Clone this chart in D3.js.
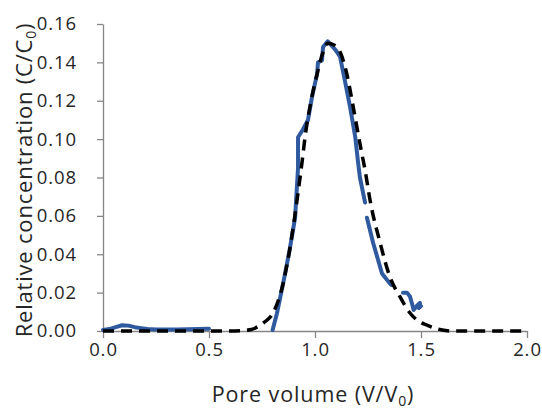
<!DOCTYPE html>
<html><head><meta charset="utf-8">
<script src="https://cdn.jsdelivr.net/npm/d3@7"></script>
<style>body{margin:0;background:#fff}svg{display:block}text{font-family:"Open Sans",sans-serif;fill:#262626}</style>
</head><body>
<script>
// Observed breakthrough data (null = gap)
const obsV = [0.00,0.03,0.06,0.09,0.12,0.15,0.18,0.21,0.25,0.30,0.35,0.40,0.45,0.50,null,
  0.80,0.82,0.85,0.88,0.906,0.92,0.92,0.943,0.967,0.986,1.01,1.014,1.033,1.038,1.06,1.085,1.10,1.118,1.14,1.165,1.19,1.203,1.212,1.236,null,
  1.245,1.274,1.316,1.344,1.36,null,
  1.415,1.434,1.448,1.462,1.465,1.48,1.495,1.49,1.50];
const obsC = [0.0005,0.001,0.002,0.003,0.0028,0.002,0.0015,0.001,0.0008,0.0008,0.0008,0.0009,0.001,0.0012,null,
  0.0005,0.009,0.025,0.042,0.059,0.085,0.101,0.105,0.110,0.122,0.134,0.140,0.141,0.148,0.151,0.148,0.146,0.143,0.131,0.117,0.101,0.088,0.080,0.067,null,
  0.059,0.046,0.030,0.026,0.024,null,
  0.020,0.020,0.018,0.0125,0.011,0.013,0.0146,0.012,0.013];
// Model fit
const modV = [0.00,0.20,0.40,0.60,0.65,0.70,0.726,0.76,0.80,0.85,0.88,0.915,0.94,0.953,0.98,1.01,1.04,1.06,1.09,1.12,1.15,1.175,1.198,1.22,1.236,1.26,1.307,1.354,1.40,1.448,1.49,1.53,1.58,1.65,1.80,2.00];
const modC = [0,0,0,0,0.0002,0.0008,0.002,0.0045,0.009,0.025,0.042,0.068,0.089,0.101,0.119,0.134,0.146,0.150,0.149,0.145,0.134,0.120,0.106,0.093,0.084,0.068,0.046,0.028,0.018,0.0094,0.005,0.003,0.001,0,0,0];
const xTicks = [0,0.5,1.0,1.5,2.0];
const yTicks = [0,0.02,0.04,0.06,0.08,0.10,0.12,0.14,0.16];

const W=542,H=409, L=103, R=527, T=24, B=331;
const svg = d3.select("body").append("svg").attr("width",W).attr("height",H);
const x = d3.scaleLinear().domain([0,2]).range([L,R]);
const y = d3.scaleLinear().domain([0,0.16]).range([B,T]);

const ax = svg.append("g").attr("transform",`translate(0,${B})`)
  .call(d3.axisBottom(x).tickValues(xTicks).tickFormat(d3.format(".1f")).tickSize(7).tickSizeOuter(0).tickPadding(5));
const ay = svg.append("g").attr("transform",`translate(${L},0)`)
  .call(d3.axisLeft(y).tickValues(yTicks).tickFormat(d3.format(".2f")).tickSize(6).tickSizeOuter(0).tickPadding(20));
[ax,ay].forEach(g=>{
  g.selectAll("path,line").attr("stroke","#868686").attr("stroke-width",1.3);
  g.selectAll("text").attr("font-size",18.5).attr("letter-spacing",0.9).attr("fill","#262626").attr("font-family","Open Sans, sans-serif");
});
ay.selectAll("text").attr("dx",0);

const mod = modV.map((v,i)=>[v,modC[i]]);
const obs = obsV.map((v,i)=>[v,obsC[i]]);

svg.append("path").datum(obs)
  .attr("d", d3.line().defined(d=>d[0]!==null).x(d=>x(d[0])).y(d=>y(d[1])))
  .attr("fill","none").attr("stroke","#2f5aa0").attr("stroke-width",4).attr("stroke-linejoin","round").attr("stroke-linecap","round");

svg.append("path").datum(mod)
  .attr("d", d3.line().curve(d3.curveMonotoneX).x(d=>x(d[0])).y(d=>y(d[1])))
  .attr("fill","none").attr("stroke","#000").attr("stroke-width",3.5).attr("stroke-dasharray","11,7");

const xt = svg.append("text").attr("x",(L+R)/2-2).attr("y",402).attr("text-anchor","middle").attr("font-size",21.5).attr("letter-spacing",0.9);
xt.append("tspan").text("Pore volume (V/V");
xt.append("tspan").text("0").attr("font-size",14).attr("dy",4);
xt.append("tspan").text(")").attr("dy",-4);

const yt = svg.append("text").attr("transform",`translate(32,180) rotate(-90)`).attr("text-anchor","middle").attr("font-size",22).attr("letter-spacing",0.8);
yt.append("tspan").text("Relative concentration (C/C");
yt.append("tspan").text("0").attr("font-size",14).attr("dy",4);
yt.append("tspan").text(")").attr("dy",-4);
</script>
</body></html>
